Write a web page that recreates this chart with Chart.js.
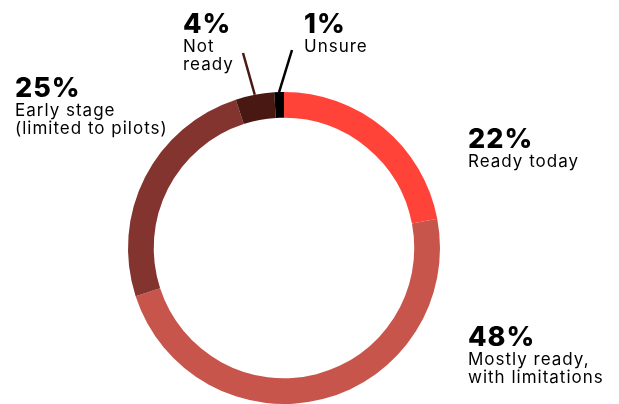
<!DOCTYPE html>
<html>
<head>
<meta charset="utf-8">
<script src="https://cdn.jsdelivr.net/npm/chart.js@4/dist/chart.umd.min.js"></script>
<style>
  html, body { margin: 0; padding: 0; background: #fff; overflow: hidden; }
  #wrap { width: 619px; height: 404px; position: relative; }
</style>
</head>
<body>
<div id="wrap"><canvas id="c"></canvas></div>
<script>
// Readiness survey results, clockwise from 12 o'clock
const categories = ['Ready today', 'Mostly ready, with limitations', 'Early stage (limited to pilots)', 'Not ready', 'Unsure'];
const shares = [22, 48, 25, 4, 1];
const labelLines = [['Ready today'], ['Mostly ready,', 'with limitations'], ['Early stage', '(limited to pilots)'], ['Not', 'ready'], ['Unsure']];
const sliceColors = ['#ff4338', '#c8554b', '#84342f', '#4a1813', '#000000'];

// Text placement for each callout (left x, baseline of the percentage)
const calloutPos = [
  { x: 468, y: 148 },
  { x: 468, y: 346 },
  { x: 15,  y: 97 },
  { x: 183, y: 33 },
  { x: 304, y: 33 }
];
// Leader lines for the two thin slices: top end of each line
const leaderTops = { 3: { x: 243, y: 53, color: '#4a1813' }, 4: { x: 292, y: 50, color: '#000000' } };

const FONT = 'Inter, "Noto Sans", sans-serif';

const callouts = {
  id: 'callouts',
  afterDraw(chart) {
    const ctx = chart.ctx;
    const arcs = chart.getDatasetMeta(0).data;
    ctx.save();
    // leader lines
    Object.keys(leaderTops).forEach(k => {
      const i = +k, arc = arcs[i], t = leaderTops[k];
      const mid = (arc.startAngle + arc.endAngle) / 2;
      const r = arc.outerRadius;
      ctx.beginPath();
      ctx.moveTo(arc.x + Math.cos(mid) * r, arc.y + Math.sin(mid) * r);
      ctx.lineTo(t.x, t.y);
      ctx.strokeStyle = t.color;
      ctx.lineWidth = 2.5;
      ctx.stroke();
    });
    // texts
    ctx.fillStyle = '#000';
    ctx.textAlign = 'left';
    ctx.textBaseline = 'alphabetic';
    shares.forEach((v, i) => {
      const p = calloutPos[i];
      ctx.letterSpacing = '1px';
      ctx.font = '800 27px ' + FONT;
      ctx.fillText(v + '%', p.x, p.y);
      ctx.font = '400 17px ' + FONT;
      labelLines[i].forEach((ln, j) => {
        ctx.fillText(ln, p.x, p.y + 19 + j * 17.5);
      });
    });
    ctx.restore();
  }
};

new Chart(document.getElementById('c'), {
  type: 'doughnut',
  data: {
    labels: categories,
    datasets: [{
      data: shares,
      backgroundColor: sliceColors,
      borderWidth: 0
    }]
  },
  options: {
    responsive: true,
    maintainAspectRatio: false,
    animation: false,
    cutout: '83.5%',
    layout: { padding: { top: 92, bottom: 0, left: 128, right: 179 } },
    plugins: { legend: { display: false }, tooltip: { enabled: false } }
  },
  plugins: [callouts]
});
</script>
</body>
</html>
